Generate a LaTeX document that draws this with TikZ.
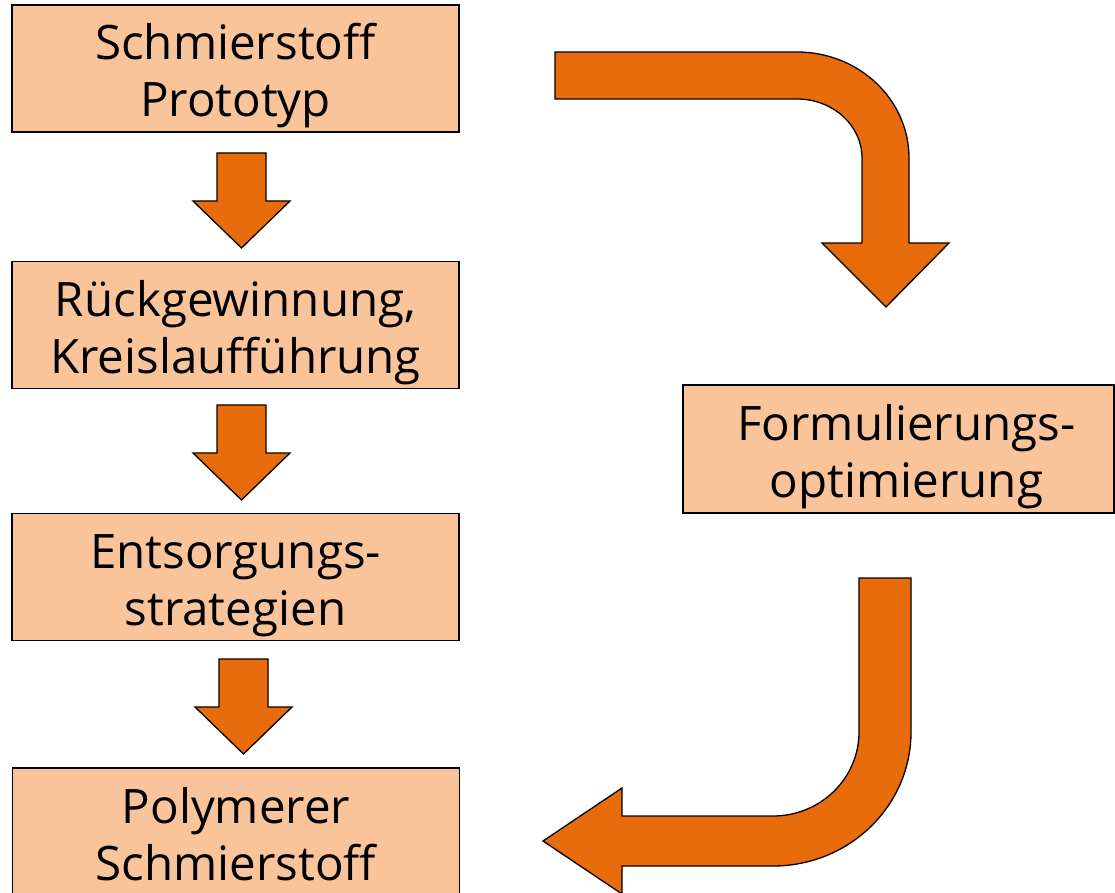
\documentclass[tikz,border=0pt]{standalone}
\usepackage{fontspec}
\setmainfont{Open Sans}
\definecolor{boxfill}{RGB}{250,196,155}
\definecolor{arrowfill}{RGB}{233,108,12}
\newcommand{\topstrut}{\rule{0pt}{52pt}}
\newcommand{\botstrut}{\rule[-12pt]{0pt}{12pt}}
\begin{document}
\begin{tikzpicture}[x=1pt,y=-1pt,
  stepbox/.style={draw=black,line width=1.1pt,fill=boxfill,rectangle,inner sep=0pt,
    minimum width=447pt,minimum height=127pt,align=center,
    font=\fontsize{47.5}{57}\selectfont},
  blockarrow/.style={draw=black,line width=1.3pt,fill=arrowfill,line join=miter},
  downarrow/.pic={\path[blockarrow] (-24.5,0) -- (24.5,0) -- (24.5,48) -- (48.5,48) -- (0,95) -- (-48.5,48) -- (-24.5,48) -- cycle;}
]
\useasboundingbox (0,0) rectangle (1115,893);
\clip (0,0) rectangle (1115,893);

\node[stepbox] (b1) at (235.5,68.5) {\topstrut Schmierstoff\\Prototyp\botstrut};
\node[stepbox] (b2) at (235.5,325) {\topstrut Rückgewinnung,\\Kreislaufführung\botstrut};
\node[stepbox] (b3) at (235.5,577) {\topstrut Entsorgungs-\\strategien\botstrut};
\node[stepbox] (b4) at (236,831.5) {\topstrut Polymerer\\Schmierstoff\botstrut};
\node[stepbox,minimum width=431pt,minimum height=128pt] (b5) at (898.5,449) {\topstrut\hspace*{16pt}Formulierungs-\\\hspace*{16pt}optimierung\botstrut};

\pic at (241.5,153) {downarrow};
\pic at (241.5,405) {downarrow};
\pic at (243.5,659) {downarrow};

% big arrow top right
\path[blockarrow] (555,52) -- (797,52)
  arc[start angle=-90,end angle=0,x radius=112,y radius=106]
  -- (909,243) -- (949,243) -- (886,307) -- (822,243) -- (862,243) -- (862,158)
  arc[start angle=0,end angle=-90,x radius=65,y radius=59]
  -- (555,99) -- cycle;

% big arrow bottom right
\path[blockarrow] (859,578) -- (911,578) -- (911,732)
  arc[start angle=0,end angle=90,x radius=138,y radius=134]
  -- (622,866) -- (622,894) -- (543,841) -- (622,788) -- (622,816) -- (773,816)
  arc[start angle=90,end angle=0,x radius=86,y radius=84]
  -- cycle;
\end{tikzpicture}
\end{document}
